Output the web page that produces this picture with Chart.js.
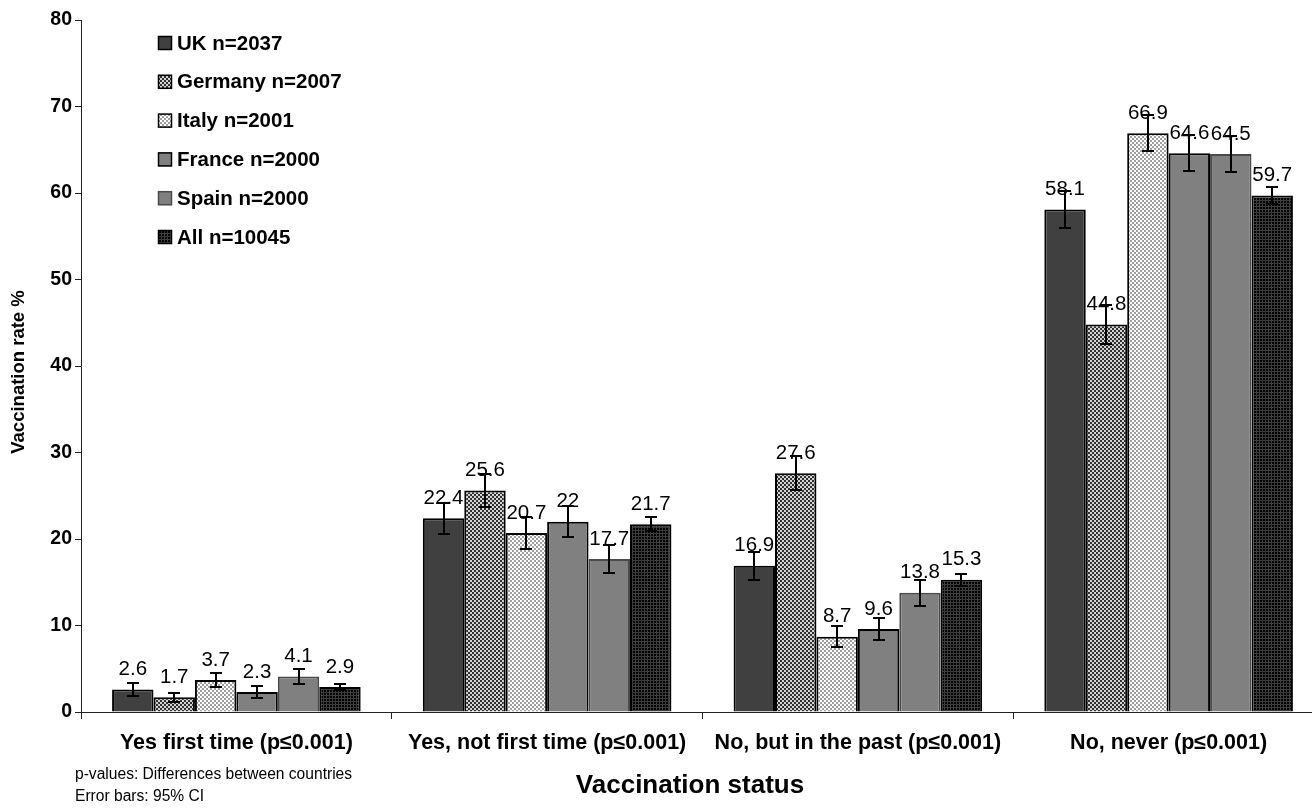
<!DOCTYPE html>
<html>
<head>
<meta charset="utf-8">
<script src="https://cdn.jsdelivr.net/npm/chart.js@4/dist/chart.umd.min.js"></script>
<style>
  html, body { margin: 0; padding: 0; background: #fff; overflow: hidden; }
  #wrap { width: 1330px; height: 808px; }
</style>
</head>
<body>
<div id="wrap"><canvas id="c" width="1330" height="808"></canvas></div>
<script>
// Vaccination status categories (x axis)
const categories = [
  'Yes first time (p\u22640.001)',
  'Yes, not first time (p\u22640.001)',
  'No, but in the past (p\u22640.001)',
  'No, never (p\u22640.001)'
];

// Series labels (legend)
const seriesNames = ['UK n=2037', 'Germany n=2007', 'Italy n=2001', 'France n=2000', 'Spain n=2000', 'All n=10045'];

// Vaccination rate % per series, one value per category
const ukValues      = [2.6, 22.4, 16.9, 58.1];
const germanyValues = [1.7, 25.6, 27.6, 44.8];
const italyValues   = [3.7, 20.7, 8.7, 66.9];
const franceValues  = [2.3, 22.0, 9.6, 64.6];
const spainValues   = [4.1, 17.7, 13.8, 64.5];
const allValues     = [2.9, 21.7, 15.3, 59.7];

// Half-width of the 95% CI per series, one value per category
const ukErr      = [0.7, 1.8, 1.6, 2.1];
const germanyErr = [0.55, 1.9, 1.95, 2.2];
const italyErr   = [0.8, 1.8, 1.2, 2.1];
const franceErr  = [0.65, 1.8, 1.3, 2.1];
const spainErr   = [0.9, 1.65, 1.5, 2.1];
const allErr     = [0.33, 0.8, 0.7, 0.95];

// Y axis range and step
const yMin = 0, yMax = 80, yStep = 10;

// Small tiled fills for the patterned bars
function makePattern(cell, grid) {
  const n = grid.length;
  const cv = document.createElement('canvas');
  cv.width = n * cell; cv.height = n * cell;
  const g = cv.getContext('2d');
  for (let y = 0; y < n; y++) {
    for (let x = 0; x < n; x++) {
      g.fillStyle = grid[y][x];
      g.fillRect(x * cell, y * cell, cell, cell);
    }
  }
  return g.createPattern(cv, 'repeat');
}
const ctx = document.getElementById('c').getContext('2d');
const germanyFill = makePattern(2, [['#303030', '#d4d4d4'], ['#d4d4d4', '#303030']]);
const italyFill   = makePattern(2, [['#ffffff', '#a0a0a0'], ['#a0a0a0', '#ffffff']]);
const allFill     = makePattern(1, [['#000', '#000', '#3c3c3c'], ['#000', '#000', '#3c3c3c'], ['#3c3c3c', '#3c3c3c', '#3c3c3c']]);

const FONT = '"Liberation Sans", Arial, Helvetica, sans-serif';

const seriesValues = [ukValues, germanyValues, italyValues, franceValues, spainValues, allValues];
const seriesErrors = [ukErr, germanyErr, italyErr, franceErr, spainErr, allErr];
const seriesFills  = ['#404040', germanyFill, italyFill, '#808080', '#808080', allFill];
const seriesBorders = ['#000', '#000', '#000', '#000', '#4a4a4a', '#000'];

const datasets = seriesNames.map((name, i) => ({
  label: name,
  data: seriesValues[i],
  errors: seriesErrors[i],
  backgroundColor: seriesFills[i],
  borderColor: seriesBorders[i],
  borderWidth: 2,
  barPercentage: 1.0,
  categoryPercentage: 0.8
}));

// Value labels above each bar, then CI whiskers on top
const barDecorations = {
  id: 'barDecorations',
  afterDatasetsDraw(chart) {
    const c = chart.ctx;
    const ys = chart.scales.y;
    c.save();
    chart.data.datasets.forEach((ds, i) => {
      const meta = chart.getDatasetMeta(i);
      meta.data.forEach((bar, j) => {
        const v = ds.data[j];
        c.fillStyle = '#000';
        c.font = '20.5px ' + FONT;
        c.textAlign = 'center';
        c.textBaseline = 'middle';
        c.fillText(String(v), bar.x, ys.getPixelForValue(v) - 20);
      });
    });
    chart.data.datasets.forEach((ds, i) => {
      const meta = chart.getDatasetMeta(i);
      meta.data.forEach((bar, j) => {
        const v = ds.data[j], e = ds.errors[j];
        const yt = Math.round(ys.getPixelForValue(v + e));
        const yb = Math.round(ys.getPixelForValue(v - e));
        const x = Math.round(bar.x);
        c.strokeStyle = '#000';
        c.lineWidth = 2;
        c.beginPath();
        c.moveTo(x, yt); c.lineTo(x, yb);
        c.moveTo(x - 6, yt); c.lineTo(x + 6, yt);
        c.moveTo(x - 6, yb); c.lineTo(x + 6, yb);
        c.stroke();
      });
    });
    c.restore();
  }
};

// Legend, axis titles and footnotes
const annotations = {
  id: 'annotations',
  afterDraw(chart) {
    const c = chart.ctx;
    c.save();
    chart.data.datasets.forEach((ds, i) => {
      const cy = 43 + i * 38.8;
      c.fillStyle = ds.backgroundColor;
      c.fillRect(158, cy - 7, 14, 14);
      c.strokeStyle = ds.borderColor;
      c.lineWidth = 1.5;
      c.strokeRect(158.5, cy - 6.5, 13, 13);
      c.fillStyle = '#000';
      c.font = 'bold 20.5px ' + FONT;
      c.textAlign = 'left';
      c.textBaseline = 'middle';
      c.fillText(ds.label, 177, cy + 1);
    });

    c.fillStyle = '#000';
    c.font = 'bold 18.5px ' + FONT;
    c.textAlign = 'center';
    c.textBaseline = 'middle';
    c.translate(19, 372);
    c.rotate(-Math.PI / 2);
    c.fillText('Vaccination rate %', 0, 0);
    c.setTransform(1, 0, 0, 1, 0, 0);

    c.font = 'bold 26px ' + FONT;
    c.fillText('Vaccination status', 690, 786);

    c.font = '15.6px ' + FONT;
    c.textAlign = 'left';
    c.fillText('p-values: Differences between countries', 75, 775);
    c.fillText('Error bars: 95% CI', 75, 797);
    c.restore();
  }
};

new Chart(ctx, {
  type: 'bar',
  data: { labels: categories, datasets },
  options: {
    responsive: false,
    devicePixelRatio: 1,
    animation: false,
    layout: { padding: { top: 20, right: 6, left: 0, bottom: 0 } },
    plugins: { legend: { display: false }, tooltip: { enabled: false } },
    scales: {
      x: {
        grid: { display: true, drawOnChartArea: false, offset: true, color: '#222', tickLength: 7 },
        border: { display: true, color: '#222', width: 1 },
        ticks: { color: '#000', font: { family: FONT, size: 21.5, weight: 'bold' }, padding: 11, maxRotation: 0, autoSkip: false },
        afterFit(scale) { scale.height = 96; }
      },
      y: {
        min: yMin, max: yMax,
        grid: { display: true, drawOnChartArea: false, color: '#222', tickLength: 6 },
        border: { display: true, color: '#222', width: 1 },
        ticks: { stepSize: yStep, color: '#000', font: { family: FONT, size: 19.5, weight: 'bold' }, padding: 3 },
        afterFit(scale) { scale.width = 81; }
      }
    }
  },
  plugins: [barDecorations, annotations]
});
</script>
</body>
</html>
